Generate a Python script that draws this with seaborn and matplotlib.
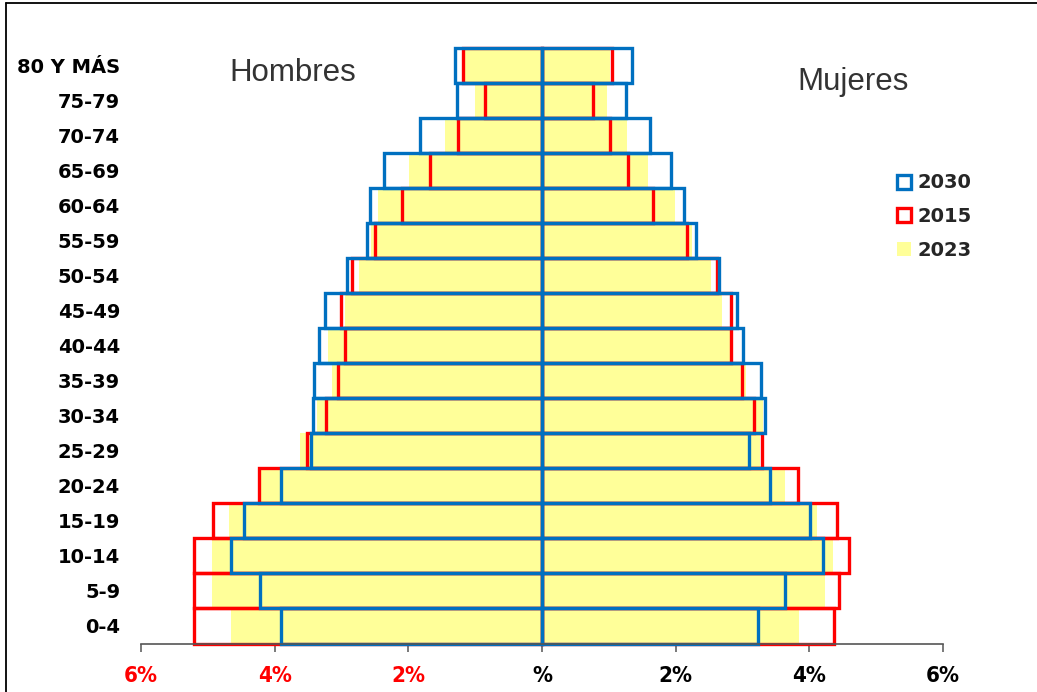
import numpy as np
import pandas as pd
import matplotlib
matplotlib.use("Agg")
import matplotlib.pyplot as plt
import seaborn as sns
from matplotlib.patches import Patch
from matplotlib.lines import Line2D

# ---------------- data ----------------
ages = ["80 Y MÁS", "75-79", "70-74", "65-69", "60-64", "55-59", "50-54", "45-49",
        "40-44", "35-39", "30-34", "25-29", "20-24", "15-19", "10-14", "5-9", "0-4"]

men_2023 = [1.15, 1.00, 1.45, 1.99, 2.45, 2.56, 2.74, 2.95, 3.20, 3.14, 3.37, 3.62, 4.20, 4.69, 4.94, 4.94, 4.65]
men_2015 = [1.18, 0.85, 1.26, 1.68, 2.10, 2.50, 2.84, 3.01, 2.95, 3.05, 3.23, 3.51, 4.23, 4.93, 5.20, 5.21, 5.21]
men_2030 = [1.30, 1.27, 1.83, 2.37, 2.58, 2.62, 2.92, 3.25, 3.34, 3.41, 3.43, 3.46, 3.91, 4.46, 4.66, 4.22, 3.90]

women_2023 = [1.02, 0.97, 1.27, 1.59, 1.99, 2.25, 2.53, 2.70, 2.81, 3.05, 3.30, 3.26, 3.63, 4.12, 4.36, 4.23, 3.85]
women_2015 = [1.05, 0.76, 1.01, 1.28, 1.66, 2.17, 2.62, 2.83, 2.83, 2.99, 3.17, 3.29, 3.83, 4.42, 4.59, 4.45, 4.37]
women_2030 = [1.34, 1.26, 1.62, 1.93, 2.13, 2.31, 2.65, 2.92, 3.00, 3.28, 3.34, 3.09, 3.41, 4.01, 4.20, 3.63, 3.23]

xticks = [-6, -4, -2, 0, 2, 4, 6]
xtick_labels = ["6%", "4%", "2%", "%", "2%", "4%", "6%"]
legend_labels = ["2030", "2015", "2023"]

C_BLUE = "#0070c0"
C_RED = "#ff0000"
C_YEL = "#ffff99"

sns.set_theme(style="white")
plt.rcParams["font.family"] = ["DejaVu Sans"]

fig = plt.figure(figsize=(10.37, 6.92), dpi=100)
ax = fig.add_axes([141 / 1037, 1 - 643.5 / 692, (943 - 141) / 1037, (643.5 - 48.3) / 692])

men_df = pd.DataFrame({"age": ages,
                       "y2023": -np.array(men_2023),
                       "y2015": -np.array(men_2015),
                       "y2030": -np.array(men_2030)})
wom_df = pd.DataFrame({"age": ages,
                       "y2023": women_2023,
                       "y2015": women_2015,
                       "y2030": women_2030})

# 2023 filled
for df in (men_df, wom_df):
    sns.barplot(data=df, x="y2023", y="age", order=ages, orient="h", width=1.0,
                color=C_YEL, saturation=1, errorbar=None, linewidth=0, ax=ax)
# 2015 outline
for df in (men_df, wom_df):
    sns.barplot(data=df, x="y2015", y="age", order=ages, orient="h", width=1.0,
                color=C_RED, saturation=1, errorbar=None, fill=False, linewidth=2.4, ax=ax)
# 2030 outline
for df in (men_df, wom_df):
    sns.barplot(data=df, x="y2030", y="age", order=ages, orient="h", width=1.0,
                color=C_BLUE, saturation=1, errorbar=None, fill=False, linewidth=2.4, ax=ax)

for p in ax.patches:
    p.set_clip_on(False)

ax.set_xlim(-6, 6)
ax.set_ylim(len(ages) - 0.5, -0.5)
ax.set_xlabel("")
ax.set_ylabel("")

for s in ["top", "right", "left"]:
    ax.spines[s].set_visible(False)
ax.spines["bottom"].set_color("#555555")
ax.spines["bottom"].set_linewidth(1.2)

ax.set_xticks(xticks)
ax.set_xticklabels(xtick_labels)
ax.tick_params(axis="x", direction="out", length=6, width=1.1, color="#555555", pad=10,
               bottom=True)
for lab, v in zip(ax.get_xticklabels(), xticks):
    lab.set_fontsize(16)
    lab.set_fontweight("bold")
    lab.set_fontstretch("condensed")
    lab.set_color(C_RED if v < 0 else "black")

ax.set_yticks(range(len(ages)))
ax.set_yticklabels(ages)
ax.tick_params(axis="y", length=0, pad=15, left=False)
for lab in ax.get_yticklabels():
    lab.set_fontsize(14)
    lab.set_fontweight("bold")
    lab.set_color("black")

# central axis
sec = ax.secondary_yaxis(0.5)
sec.set_yticks(np.arange(-0.5, len(ages), 1.0))
sec.set_yticks(np.arange(0, len(ages), 1.0), minor=True)
sec.set_yticklabels([])
sec.tick_params(axis="y", which="major", direction="inout", length=11, width=1.3, color="#111111")
sec.tick_params(axis="y", which="minor", direction="in", length=5, width=1.3, color="#111111")
for sp in sec.spines.values():
    sp.set_color("#111122")
    sp.set_linewidth(2.0)

# side titles
fig.text(293 / 1037, 1 - 73 / 692, "Hombres", ha="center", va="center", fontsize=22.5,
         color="#333333", family="Liberation Sans")
fig.text(853 / 1037, 1 - 82 / 692, "Mujeres", ha="center", va="center", fontsize=22.5,
         color="#333333", family="Liberation Sans")

# legend
handles = [Patch(facecolor="white", edgecolor=C_BLUE, linewidth=2.4),
           Patch(facecolor="white", edgecolor=C_RED, linewidth=2.4),
           Patch(facecolor=C_YEL, edgecolor="none")]
leg = fig.legend(handles, legend_labels, loc="upper left", bbox_to_anchor=(879 / 1037, 1 - 156 / 692),
                 frameon=False, handlelength=0.75, handleheight=0.75, handletextpad=0.35,
                 labelspacing=0.75, prop={"weight": "bold", "size": 14})

# figure border (left and top)
fig.add_artist(Line2D([6 / 1037, 6 / 1037], [0, 1 - 3 / 692], transform=fig.transFigure,
                      color="black", linewidth=1.3))
fig.add_artist(Line2D([6 / 1037, 1], [1 - 3 / 692, 1 - 3 / 692], transform=fig.transFigure,
                      color="black", linewidth=1.3))

fig.savefig("out.png", dpi=100)
